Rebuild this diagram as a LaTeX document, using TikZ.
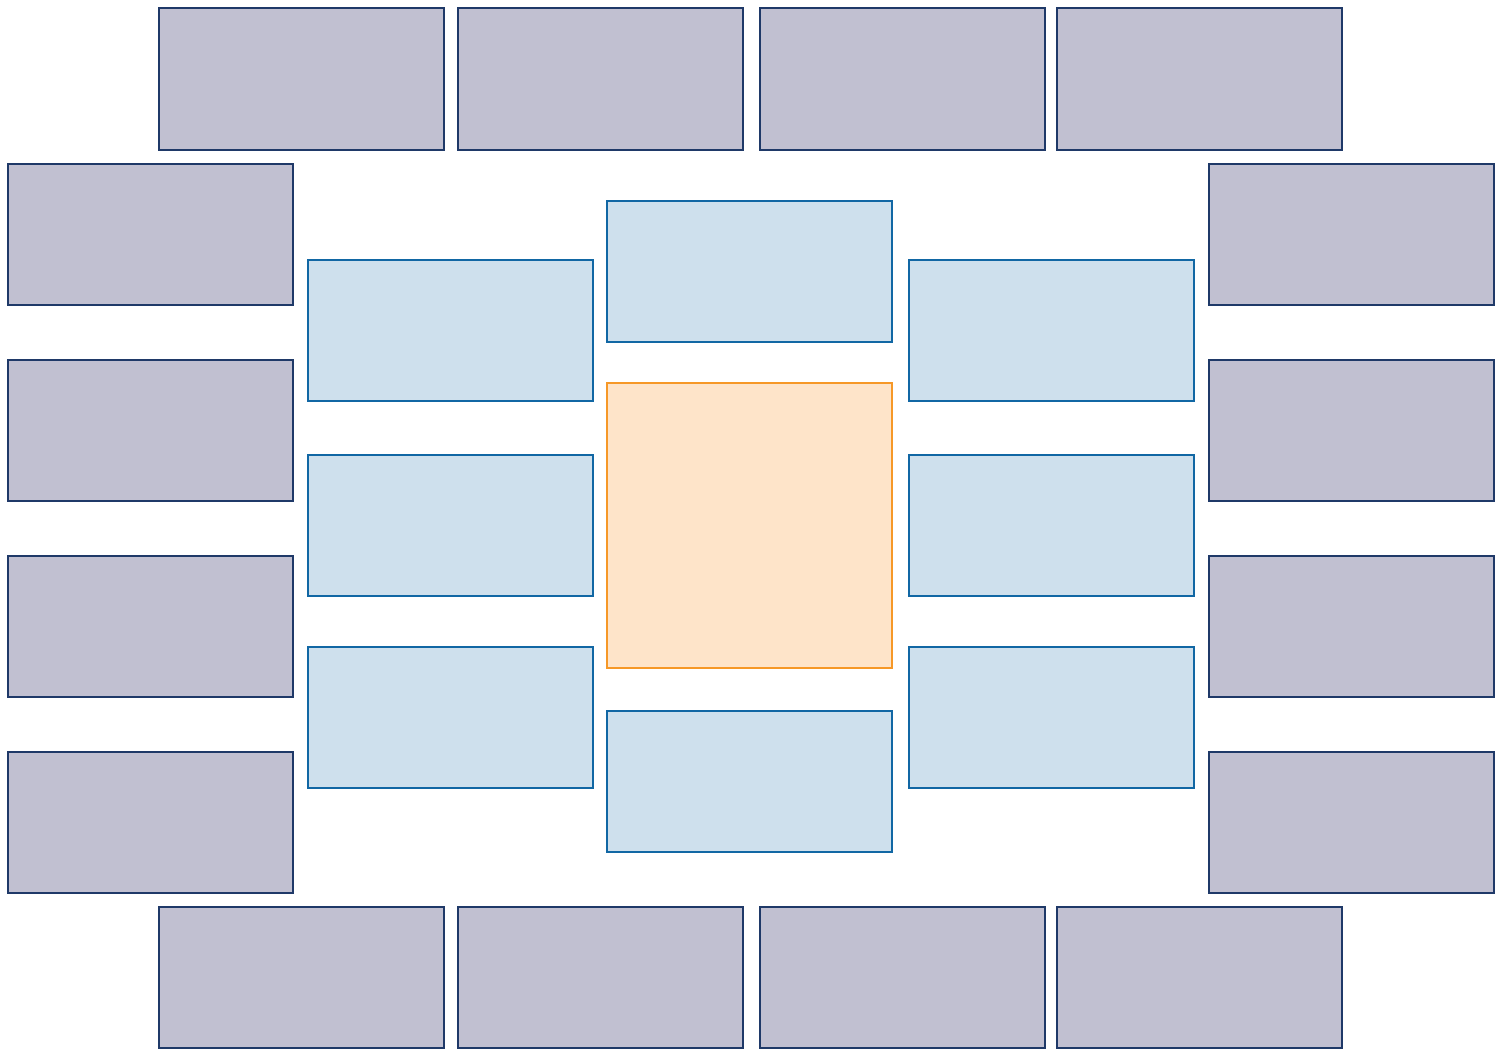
\documentclass[tikz,border=0pt]{standalone}
\usepackage{tikz}
\definecolor{ringgray}{RGB}{193,192,209}
\definecolor{ringnavy}{RGB}{31,57,104}
\definecolor{innerblue}{RGB}{206,224,237}
\definecolor{innerline}{RGB}{17,103,164}
\definecolor{corefill}{RGB}{254,228,201}
\definecolor{coreline}{RGB}{246,152,39}
\tikzset{
  outerbox/.style={
    draw=ringnavy,
    fill=ringgray,
    line width=2pt,
    minimum width=285pt,
    minimum height=141pt,
    inner sep=0pt
  },
  innerbox/.style={
    draw=innerline,
    fill=innerblue,
    line width=2pt,
    minimum width=285pt,
    minimum height=141pt,
    inner sep=0pt
  },
  corebox/.style={
    draw=coreline,
    fill=corefill,
    line width=2pt,
    minimum width=285pt,
    minimum height=285pt,
    inner sep=0pt
  }
}
\begin{document}
\begin{tikzpicture}[x=1pt,y=-1pt]
  \useasboundingbox (0,0) rectangle (1504,1049);
  % outer ring, top and bottom rows
  \node[outerbox] (t1) at (301.5,79) {};
  \node[outerbox] (t2) at (600.5,79) {};
  \node[outerbox] (t3) at (902.5,79) {};
  \node[outerbox] (t4) at (1199.5,79) {};
  \node[outerbox] (b1) at (301.5,977.5) {};
  \node[outerbox] (b2) at (600.5,977.5) {};
  \node[outerbox] (b3) at (902.5,977.5) {};
  \node[outerbox] (b4) at (1199.5,977.5) {};
  % outer ring, left and right columns
  \node[outerbox] (l1) at (150,234.5) {};
  \node[outerbox] (l2) at (150,430.5) {};
  \node[outerbox] (l3) at (150,626.5) {};
  \node[outerbox] (l4) at (150,822.5) {};
  \node[outerbox] (r1) at (1351,234.5) {};
  \node[outerbox] (r2) at (1351,430.5) {};
  \node[outerbox] (r3) at (1351,626.5) {};
  \node[outerbox] (r4) at (1351,822.5) {};
  % inner ring
  \node[innerbox] (il1) at (450.5,330.5) {};
  \node[innerbox] (il2) at (450.5,525.5) {};
  \node[innerbox] (il3) at (450.5,717.5) {};
  \node[innerbox] (ic1) at (749.5,271.5) {};
  \node[innerbox] (ic2) at (749.5,781.5) {};
  \node[innerbox] (ir1) at (1051.5,330.5) {};
  \node[innerbox] (ir2) at (1051.5,525.5) {};
  \node[innerbox] (ir3) at (1051.5,717.5) {};
  % core
  \node[corebox] (core) at (749.5,525.5) {};
\end{tikzpicture}
\end{document}
